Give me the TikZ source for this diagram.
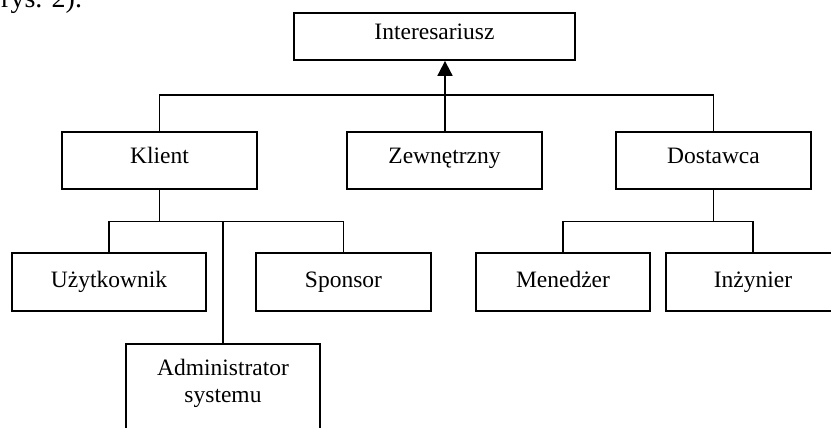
\documentclass[tikz,border=0pt]{standalone}
\usepackage{fontspec}
\setmainfont{Liberation Serif}
\usetikzlibrary{arrows.meta}
\begin{document}
\begin{tikzpicture}[x=1pt,y=-1pt,
  txt/.style={font=\fontsize{23.5}{27}\selectfont},
  box/.style={draw,line width=1.8pt,inner sep=0pt,txt},
  rowone/.style={box,minimum height=47pt,text height=12pt,text depth=5pt},
  rowtwo/.style={box,minimum height=57pt,text height=10pt,text depth=5pt},
  rowthree/.style={box,minimum height=58pt,text height=15pt,text depth=5pt},
  conn/.style={line width=1.8pt},
  arr/.style={conn,-{Triangle[length=15pt,width=15pt]}}]
\useasboundingbox (0,0) rectangle (831,428);
\node[anchor=base west,font=\fontsize{28}{32}\selectfont,inner sep=0pt] (caption) at (1,8) {rys. 2).};
% level 1
\node[rowone,minimum width=281pt] (int) at (434.5,36.5) {Interesariusz};
% level 2
\node[rowtwo,minimum width=195pt] (kl) at (159.5,160.5) {Klient};
\node[rowtwo,minimum width=195pt] (zew) at (444.5,160.5) {Zewnętrzny};
\node[rowtwo,minimum width=195pt] (dos) at (713.5,160.5) {Dostawca};
% level 3
\node[rowthree,minimum width=194pt] (uzy) at (109,282) {Użytkownik};
\node[rowthree,minimum width=175pt] (spo) at (343.5,282) {Sponsor};
\node[rowthree,minimum width=174pt] (men) at (563,282) {Menedżer};
\node[rowthree,minimum width=174pt] (inz) at (753,282) {Inżynier};
\node[box,minimum width=194pt,minimum height=120pt,anchor=north] (adm) at (223,343) {};
\node[txt,anchor=north,align=center,inner sep=0pt] (admtext) at (223,358.5) {Administrator\\systemu};
% buses
\coordinate (bustop) at (445,95);
\coordinate (busleft) at (159.5,221.5);
\coordinate (busright) at (713.5,221.5);
% connectors
\draw[arr] (zew.north -| bustop) -- (int.south -| bustop);
\draw[conn] (kl.north) -- (kl.north |- bustop) -- (dos.north |- bustop) -- (dos.north);
\draw[conn] (kl.south) -- (busleft);
\draw[conn] (uzy.north) -- (uzy.north |- busleft) -- (spo.north |- busleft) -- (spo.north);
\draw[conn] (adm.north) -- (adm.north |- busleft);
\draw[conn] (dos.south) -- (busright);
\draw[conn] (men.north) -- (men.north |- busright) -- (inz.north |- busright) -- (inz.north);
\end{tikzpicture}
\end{document}
